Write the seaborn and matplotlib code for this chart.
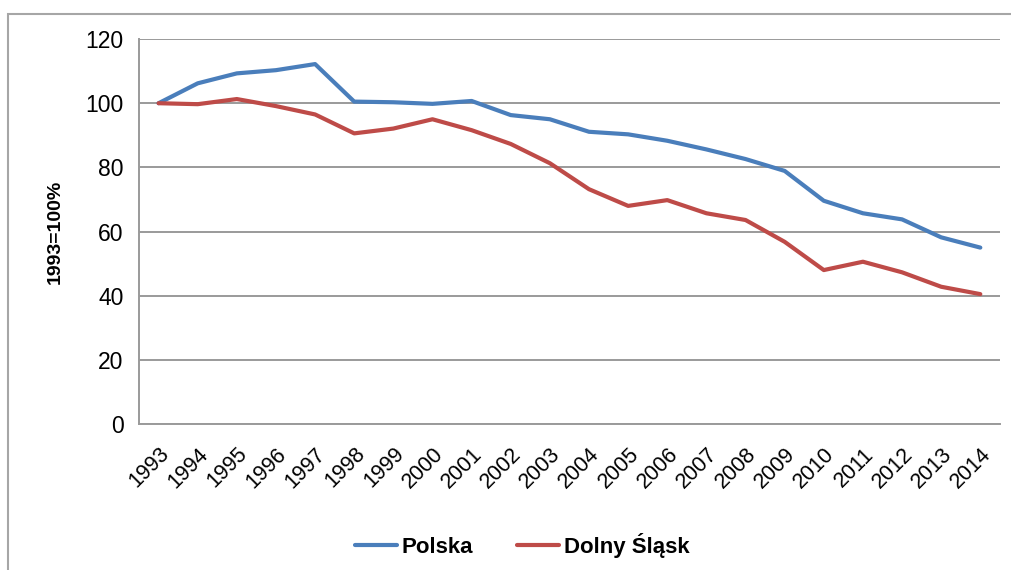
import matplotlib
matplotlib.use("Agg")
import matplotlib.pyplot as plt
import seaborn as sns
import pandas as pd
from matplotlib.patches import Rectangle
from matplotlib.ticker import FixedLocator

years = [str(y) for y in range(1993, 2015)]
polska = [100, 106.2, 109.3, 110.3, 112.2, 100.5, 100.3, 99.8, 100.7, 96.3, 95.0,
          91.1, 90.3, 88.3, 85.6, 82.6, 78.9, 69.6, 65.7, 63.8, 58.2, 55.0]
dolny_slask = [100, 99.7, 101.3, 99.1, 96.5, 90.6, 92.1, 95.0, 91.6, 87.3, 81.3,
               73.2, 68.0, 69.8, 65.7, 63.6, 56.8, 48.0, 50.6, 47.3, 42.8, 40.5]
series_names = ["Polska", "Dolny Śląsk"]
colors = ["#4A7EBB", "#BE4B48"]


def main():
    sns.set_style("white")
    plt.rcParams["font.family"] = ["Liberation Sans", "DejaVu Sans"]
    plt.rcParams["text.color"] = "black"
    plt.rcParams["xtick.labelcolor"] = "black"
    plt.rcParams["ytick.labelcolor"] = "black"
    plt.rcParams["axes.labelcolor"] = "black"

    df = pd.DataFrame({
        "rok": years * 2,
        "wartosc": polska + dolny_slask,
        "seria": [series_names[0]] * len(years) + [series_names[1]] * len(years),
    })

    fig = plt.figure(figsize=(10.11, 5.70), dpi=100)
    ax = fig.add_axes([0.1375, 0.256, 0.8515, 0.6755])

    # outer chart frame (Excel-like)
    fig.patches.append(Rectangle((8 / 1011, -0.1), 1.2, (570 - 14) / 570 + 0.1,
                                 transform=fig.transFigure, fill=False,
                                 edgecolor="#A6A6A6", linewidth=1.5, zorder=0))

    sns.lineplot(data=df, x="rok", y="wartosc", hue="seria", palette=colors,
                 linewidth=3, ax=ax, sort=False)

    ax.set_ylim(0, 120)
    ax.set_yticks(range(0, 121, 20))
    ax.set_xlim(-0.5, len(years) - 0.5)
    ax.set_xticks(range(len(years)))
    ax.set_xticklabels(years, rotation=45, ha="right", rotation_mode="anchor")
    ax.xaxis.set_minor_locator(FixedLocator([i - 0.5 for i in range(len(years) + 1)]))
    ax.tick_params(axis="x", which="major", length=0, labelsize=15.5, pad=14)
    ax.tick_params(axis="x", which="minor", length=6, width=1.3, color="#868686", direction="out")
    ax.tick_params(axis="y", which="major", length=6, width=1.3, color="#868686",
                   direction="out", labelsize=16.5, pad=5)
    ax.yaxis.grid(True, color="#9A9A9A", linewidth=1.4)
    ax.xaxis.grid(False)

    for side in ["top", "right"]:
        ax.spines[side].set_visible(False)
    for side in ["left", "bottom"]:
        ax.spines[side].set_color("#9A9A9A")
        ax.spines[side].set_linewidth(1.4)

    ax.set_xlabel("")
    ax.set_ylabel("1993=100%", fontsize=14, fontweight="bold", labelpad=16)

    ax.legend(title=None, loc="center", bbox_to_anchor=(0.445, -0.315), ncol=2,
              frameon=False, prop={"weight": "bold", "size": 16},
              handlelength=1.9, columnspacing=2.0, handletextpad=0.2)

    fig.savefig("out.png", dpi=100)
    plt.close(fig)


if __name__ == "__main__":
    main()
